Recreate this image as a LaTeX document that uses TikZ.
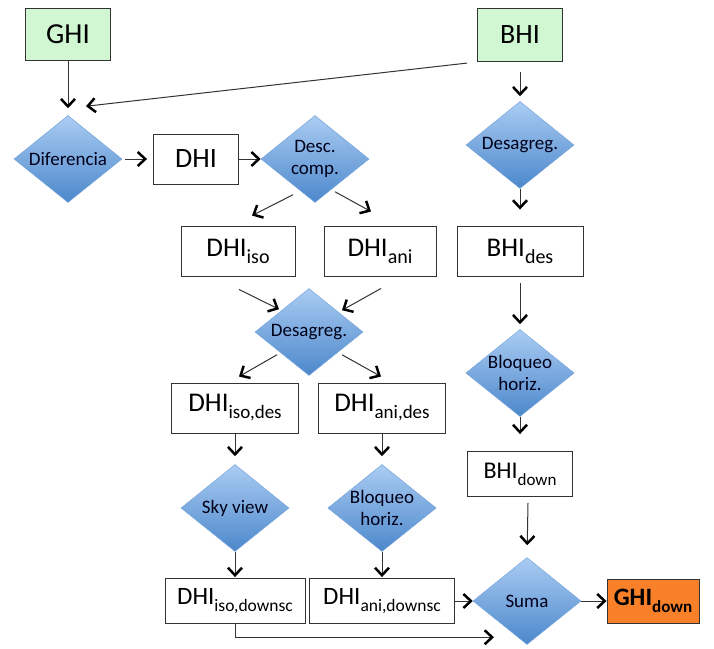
\documentclass[tikz,border=0pt]{standalone}
\usepackage{fontspec}
\setmainfont{Carlito}
\usepackage{tikz}
\usetikzlibrary{shapes.geometric, arrows.meta, positioning}
\usepackage{xcolor}

\definecolor{lgreen}{RGB}{208,246,210}
\definecolor{dtop}{RGB}{170,204,242}
\definecolor{dbot}{RGB}{76,136,204}
\definecolor{dedge}{RGB}{120,165,220}
\definecolor{orng}{RGB}{247,128,40}

\newcommand{\lowsub}[2][19]{\raisebox{-7pt}{\fontsize{#1}{#1}\selectfont #2}}

\begin{document}
\begin{tikzpicture}[x=1pt,y=1pt,on grid,
	box/.style={draw=black!80, fill=white, line width=0.9pt, inner sep=0pt,
		minimum height=50pt, font=\fontsize{27}{30}\selectfont},
	src/.style={box, fill=lgreen, minimum width=85pt, minimum height=52pt},
	decision/.style={diamond, draw=dedge, line width=0.5pt, top color=dtop,
		bottom color=dbot, aspect=1.25, inner sep=0pt, minimum width=108pt,
		minimum height=87pt, align=center, text=black!90!blue,
		font=\fontsize{19}{22}\selectfont},
	arr/.style={draw=black!80, line width=1pt,
		-{Straight Barb[length=7.5pt,width=14pt,line width=2.5pt,color=black]}}]
    \useasboundingbox (0,0) rectangle (714,-648);
    % Inputs
        \node[src,
              font=\fontsize{29}{32}\selectfont
              ] (ghi) at (68,-34) {GHI};
        \node[src,
              minimum height=53pt,
              font=\fontsize{28}{32}\selectfont
              ] (bhi) at (520,-35) {BHI};
    % Diffuse branch
		\node[decision,
			below=125pt of ghi
        	] (dif) {Diferencia};
		\node[box,
			right=128pt of dif,
			minimum width=85pt,
			font=\fontsize{28}{30}\selectfont
        	] (dhi) {DHI};
		\node[decision,
			right=119pt of dhi
        	] (desc) {Desc.\\comp.};
		\node[box,
			below left=92pt and 77pt of desc,
			minimum width=114pt
        	] (iso) {DHI\lowsub[20]{iso}};
		\node[box,
			right=142pt of iso,
			minimum width=112pt
        	] (ani) {DHI\lowsub[20]{ani}};
		\node[decision,
			below right=81pt and 71pt of iso
        	] (des1) {Desagreg.};
		\node[box,
			below left=76pt and 74pt of des1,
			minimum width=127pt
        	] (isodes) {DHI\lowsub{iso,des}};
		\node[box,
			right=147pt of isodes,
			minimum width=127pt
        	] (anides) {DHI\lowsub{ani,des}};
		\node[decision,
			below=100pt of isodes
        	] (sky) {Sky view};
		\node[decision,
			below=100pt of anides
        	] (blq1) {Bloqueo\\horiz.};
		\node[box,
			below=93pt of sky,
			minimum width=140pt,
			minimum height=45pt,
			font=\fontsize{25}{28}\selectfont
        	] (isodn) {DHI\lowsub[17.5]{iso,downsc}};
		\node[box,
			below=93pt of blq1,
			minimum width=145pt,
			minimum height=45pt,
			font=\fontsize{25}{28}\selectfont
        	] (anidn) {DHI\lowsub[17.5]{ani,downsc}};
    % Direct branch
		\node[decision,
			below=110pt of bhi
        	] (des2) {Desagreg.};
		\node[box,
			below=106pt of des2,
			minimum width=126pt
        	] (bhides) {BHI\lowsub[20]{des}};
		\node[decision,
			below=122pt of bhides
        	] (blq2) {Bloqueo\\horiz.};
		\node[box,
			below=101pt of blq2,
			minimum width=105pt,
			minimum height=45pt,
			font=\fontsize{24}{28}\selectfont
        	] (bhidn) {BHI\lowsub[17]{down}};
    % Output
		\node[decision,
			right=145pt of anidn
        	] (suma) {Suma};
		\node[box,
			right=126pt of suma,
			fill=orng,
			minimum width=92pt,
			minimum height=44pt,
			font=\bfseries\fontsize{25}{28}\selectfont
        	] (ghidn) {GHI\lowsub[17]{down}};
		\coordinate (difin) at ([xshift=18pt,yshift=9pt]dif.north);
		\coordinate (bhiout) at ([xshift=8pt,yshift=-6pt]bhidn.south);

       \path[every edge/.append style={arr}]
			(ghi.south) edge[shorten >=7pt] (dif.north)
			(bhi.south west) edge[shorten <=10pt] (difin)
			(dif.east) edge[shorten <=3pt, shorten >=6pt] (dhi.west)
			(dhi.east) edge (desc.west)
			([xshift=-22pt,yshift=8pt]desc.south) edge ([xshift=14pt,yshift=10pt]iso.north)
			([xshift=20pt,yshift=11pt]desc.south) edge ([xshift=-9pt,yshift=14pt]ani.north)
			([xshift=1pt,yshift=-13pt]iso.south) edge ([xshift=-30pt,yshift=-21pt]des1.north)
			([xshift=1pt,yshift=-12pt]ani.south) edge ([xshift=33pt,yshift=-22pt]des1.north)
			([xshift=-32pt,yshift=21pt]des1.south) edge ([xshift=4pt,yshift=6pt]isodes.north)
			([xshift=33pt,yshift=21pt]des1.south) edge ([xshift=-1pt,yshift=6pt]anides.north)
			(isodes.south) edge[shorten >=8pt] (sky.north)
			(anides.south) edge[shorten >=8pt] (blq1.north)
			(sky.south) edge[shorten >=1pt] (isodn.north)
			(blq1.south) edge[shorten >=1pt] (anidn.north)
			(anidn.east) edge (suma.west)
			(suma.east) edge (ghidn.west)
			(bhi.south) edge[shorten <=10pt, shorten >=5pt] (des2.north)
			(des2.south) edge[shorten >=16pt] (bhides.north)
			(bhides.south) edge[shorten <=7pt, shorten >=5pt] (blq2.north)
			(blq2.south) edge[shorten >=17pt] (bhidn.north)
			(bhiout) edge[shorten >=12pt] (suma.north);
       \draw[arr] (isodn.south) |- ([xshift=-33pt,yshift=7.5pt]suma.south);
    \end{tikzpicture}
\end{document}
